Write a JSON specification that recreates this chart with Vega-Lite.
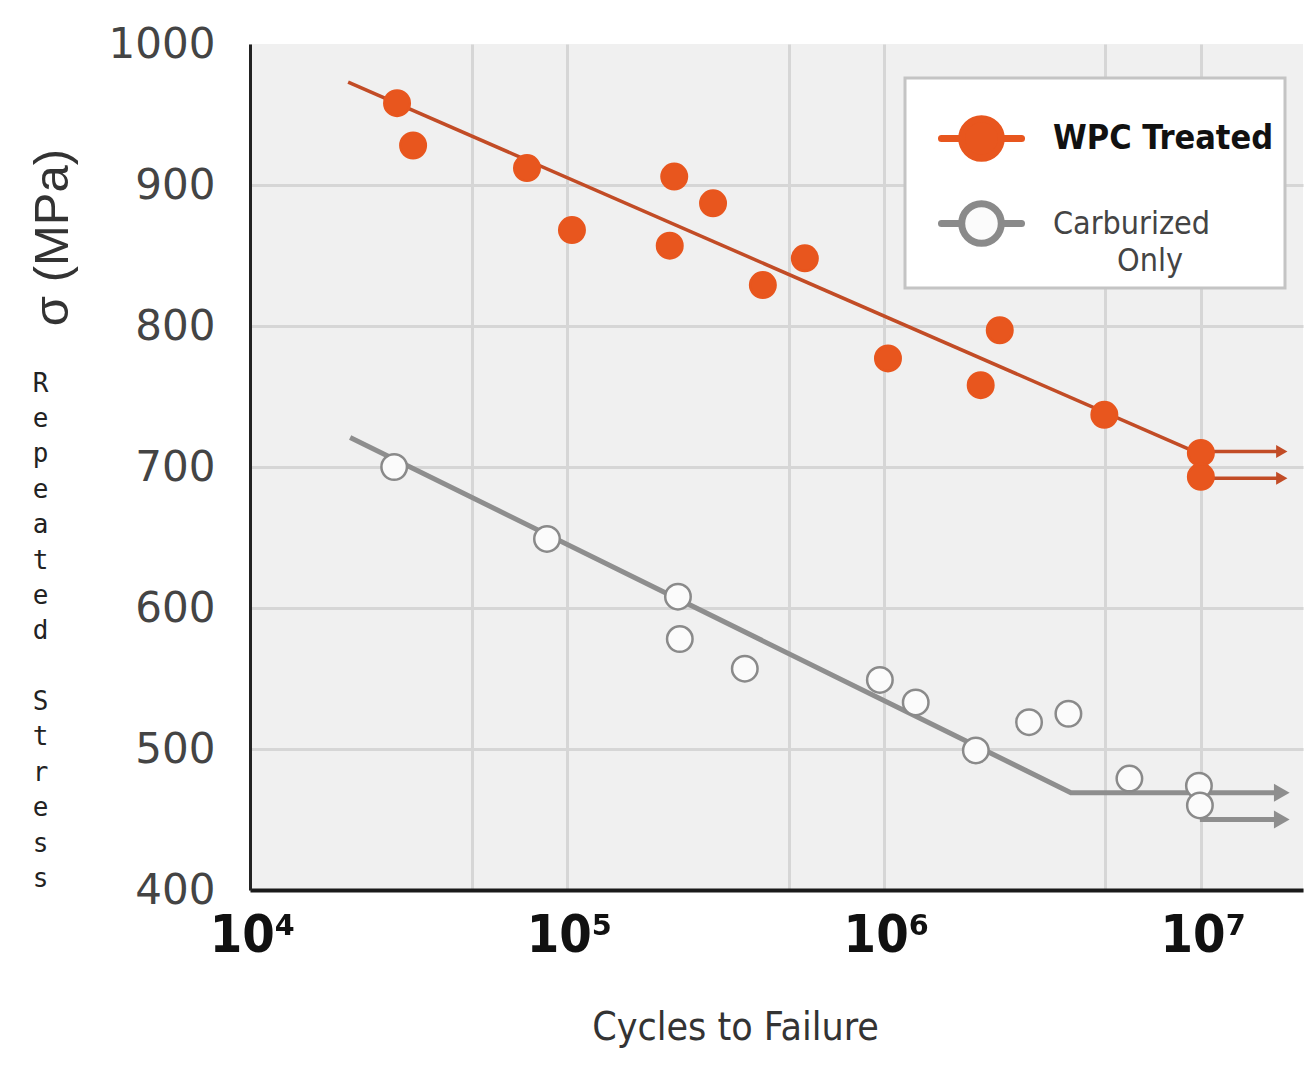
{
  "$schema": "https://vega.github.io/schema/vega-lite/v6.json",
  "width": 1053,
  "height": 846,
  "autosize": {"type": "none"},
  "padding": {"left": 250, "top": 44, "right": 8, "bottom": 177},
  "background": "white",
  "view": {"fill": "#f0f0f0", "stroke": null},
  "datasets": {
    "points": [
      {"series": "WPC Treated", "N": 29100, "S": 958},
      {"series": "WPC Treated", "N": 32700, "S": 928},
      {"series": "WPC Treated", "N": 74800, "S": 912},
      {"series": "WPC Treated", "N": 103700, "S": 868},
      {"series": "WPC Treated", "N": 218000, "S": 906},
      {"series": "WPC Treated", "N": 211000, "S": 857},
      {"series": "WPC Treated", "N": 289000, "S": 887},
      {"series": "WPC Treated", "N": 415000, "S": 829},
      {"series": "WPC Treated", "N": 563000, "S": 848},
      {"series": "WPC Treated", "N": 1030000, "S": 777},
      {"series": "WPC Treated", "N": 2020000, "S": 758},
      {"series": "WPC Treated", "N": 2320000, "S": 797},
      {"series": "WPC Treated", "N": 4960000, "S": 737},
      {"series": "WPC Treated", "N": 10000000, "S": 710},
      {"series": "WPC Treated", "N": 10000000, "S": 693},
      {"series": "Carburized Only", "N": 28500, "S": 700},
      {"series": "Carburized Only", "N": 86500, "S": 649},
      {"series": "Carburized Only", "N": 224000, "S": 608},
      {"series": "Carburized Only", "N": 227000, "S": 578},
      {"series": "Carburized Only", "N": 364000, "S": 557},
      {"series": "Carburized Only", "N": 971000, "S": 549},
      {"series": "Carburized Only", "N": 1260000, "S": 533},
      {"series": "Carburized Only", "N": 1950000, "S": 499},
      {"series": "Carburized Only", "N": 2870000, "S": 519},
      {"series": "Carburized Only", "N": 3820000, "S": 525},
      {"series": "Carburized Only", "N": 5950000, "S": 479},
      {"series": "Carburized Only", "N": 9860000, "S": 474},
      {"series": "Carburized Only", "N": 9930000, "S": 460}
    ],
    "lines": [
      {"series": "WPC Treated", "seg": "w1", "N": 20400, "S": 973},
      {"series": "WPC Treated", "seg": "w1", "N": 10000000, "S": 709},
      {"series": "WPC Treated", "seg": "w2", "N": 10000000, "S": 711},
      {"series": "WPC Treated", "seg": "w2", "N": 18000000, "S": 711},
      {"series": "WPC Treated", "seg": "w3", "N": 10000000, "S": 692},
      {"series": "WPC Treated", "seg": "w3", "N": 18000000, "S": 692},
      {"series": "Carburized Only", "seg": "c1", "N": 20700, "S": 721},
      {"series": "Carburized Only", "seg": "c1", "N": 3890000, "S": 469},
      {"series": "Carburized Only", "seg": "c1", "N": 18000000, "S": 469},
      {"series": "Carburized Only", "seg": "c2", "N": 9930000, "S": 450},
      {"series": "Carburized Only", "seg": "c2", "N": 18000000, "S": 450}
    ],
    "heads": [
      {"series": "WPC Treated", "N": 18000000, "S": 711},
      {"series": "WPC Treated", "N": 18000000, "S": 692},
      {"series": "Carburized Only", "N": 18000000, "S": 469},
      {"series": "Carburized Only", "N": 18000000, "S": 450}
    ]
  },
  "layer": [
    {
      "data": {"name": "lines"},
      "transform": [{"filter": "datum.series == 'Carburized Only'"}],
      "mark": {"type": "line", "color": "#8e8e8e", "strokeWidth": 5},
      "encoding": {
        "x": {
          "field": "N", "type": "quantitative",
          "scale": {"type": "log", "domain": [10000, 21000000], "nice": false},
          "axis": {
            "values": [10000, 50000, 100000, 500000, 1000000, 5000000, 10000000],
            "labelExpr": "datum.value == 10000 ? '10⁴' : datum.value == 100000 ? '10⁵' : datum.value == 1000000 ? '10⁶' : datum.value == 10000000 ? '10⁷' : ''",
            "title": "Cycles to Failure",
            "titleX": 485, "titleY": 137, "titleAlign": "center", "titleBaseline": "middle",
            "titleFont": "DejaVu Sans Condensed, DejaVu Sans",
            "titleFontSize": 39, "titleFontWeight": "normal", "titleColor": "#333333",
            "labelFont": "DejaVu Sans Condensed, DejaVu Sans",
            "labelFontSize": 52, "labelFontWeight": "bold", "labelColor": "#111111",
            "labelPadding": 20, "labelFlush": false, "labelOverlap": false, "labelOffset": 2,
            "ticks": false, "domainColor": "#1a1a1a", "domainWidth": 4,
            "grid": true, "gridColor": "#d6d6d6", "gridWidth": 3
          }
        },
        "y": {
          "field": "S", "type": "quantitative",
          "scale": {"domain": [400, 1000], "nice": false, "zero": false},
          "axis": {
            "values": [400, 500, 600, 700, 800, 900, 1000],
            "format": "d",
            "title": "σ  (MPa)",
            "titleX": -198, "titleY": 193, "titleAlign": "center", "titleBaseline": "middle", "titleAngle": 270,
            "titleFont": "Liberation Sans", "titleFontSize": 49, "titleFontWeight": "normal", "titleColor": "#333333",
            "labelFont": "DejaVu Sans", "labelFontSize": 42, "labelColor": "#444444", "labelPadding": 35,
            "labelFlush": false,
            "ticks": false, "domainColor": "#222222", "domainWidth": 3,
            "grid": true,
            "gridColor": {"condition": {"test": "datum.value == 1000", "value": "transparent"}, "value": "#d6d6d6"},
            "gridWidth": 3
          }
        },
        "detail": {"field": "seg"}
      }
    },
    {
      "data": {"name": "lines"},
      "transform": [{"filter": "datum.series == 'WPC Treated'"}],
      "mark": {"type": "line", "color": "#c24c26", "strokeWidth": 3.5},
      "encoding": {
        "x": {"field": "N", "type": "quantitative"},
        "y": {"field": "S", "type": "quantitative", "axis": null},
        "detail": {"field": "seg"}
      }
    },
    {
      "data": {"name": "heads"},
      "transform": [{"filter": "datum.series == 'Carburized Only'"}],
      "mark": {"type": "point", "shape": "triangle-right", "filled": true, "size": 330, "color": "#8e8e8e", "opacity": 1},
      "encoding": {
        "x": {"field": "N", "type": "quantitative"},
        "y": {
          "field": "S", "type": "quantitative",
          "axis": {
            "orient": "left", "labels": false, "ticks": false, "domain": false, "grid": false,
            "title": ["R", "e", "p", "e", "a", "t", "e", "d", "\u200b", "S", "t", "r", "e", "s", "s"],
            "titleAngle": 0, "titleX": -210, "titleY": 339, "titleAlign": "center", "titleBaseline": "middle",
            "titleLineHeight": 35.4, "titleFont": "DejaVu Sans Mono", "titleFontSize": 26,
            "titleFontWeight": "normal", "titleColor": "#222222"
          }
        }
      }
    },
    {
      "data": {"name": "heads"},
      "transform": [{"filter": "datum.series == 'WPC Treated'"}],
      "mark": {"type": "point", "shape": "triangle-right", "filled": true, "size": 170, "color": "#c24c26", "opacity": 1},
      "encoding": {
        "x": {"field": "N", "type": "quantitative"},
        "y": {"field": "S", "type": "quantitative", "axis": null}
      }
    },
    {
      "data": {"name": "points"},
      "mark": {"type": "point", "shape": "circle", "filled": true, "size": 650, "strokeWidth": 2.5, "opacity": 1},
      "encoding": {
        "x": {"field": "N", "type": "quantitative"},
        "y": {"field": "S", "type": "quantitative", "axis": null},
        "fill": {
          "field": "series", "type": "nominal",
          "scale": {"domain": ["WPC Treated", "Carburized Only"], "range": ["#e8561e", "#fbfbfb"]},
          "legend": {
            "title": null, "orient": "none", "legendX": 655, "legendY": 34, "direction": "vertical",
            "fillColor": "white", "strokeColor": "#c4c4c4", "padding": 11,
            "symbolType": "M -0.87 0 H -0.47 M 0.47 0 H 0.87 M 0.43 0 A 0.43 0.43 0 1 1 -0.43 0 A 0.43 0.43 0 1 1 0.43 0 Z",
            "symbolSize": 8464, "symbolStrokeWidth": 7, "symbolOffset": 16, "symbolOpacity": 1, "rowPadding": 1,
            "labelOffset": 22, "labelFont": "DejaVu Sans Condensed, DejaVu Sans",
            "labelFontSize": 32, "labelColor": "#333333", "labelLimit": 400, "labelBaseline": "middle",
            "labelExpr": "datum.label == 'Carburized Only' ? ['Carburized', '\u200b\u00a0\u00a0\u00a0\u00a0\u00a0\u00a0\u00a0Only'] : datum.label",
            "encode": {
              "legend": {"update": {"strokeWidth": {"value": 3}}},
              "symbols": {"update": {"strokeCap": {"value": "round"}}},
              "labels": {"update": {
                "fontSize": {"signal": "datum.value == 'WPC Treated' ? 34 : 32"},
                "fontWeight": {"signal": "datum.value == 'WPC Treated' ? 'bold' : 'normal'"},
                "fill": {"signal": "datum.value == 'WPC Treated' ? '#111111' : '#444444'"},
                "lineHeight": {"value": 37}
              }}
            }
          }
        },
        "stroke": {
          "field": "series", "type": "nominal",
          "scale": {"domain": ["WPC Treated", "Carburized Only"], "range": ["#e8561e", "#8a8a8a"]}
        }
      }
    }
  ],
  "resolve": {"axis": {"y": "independent"}}
}
